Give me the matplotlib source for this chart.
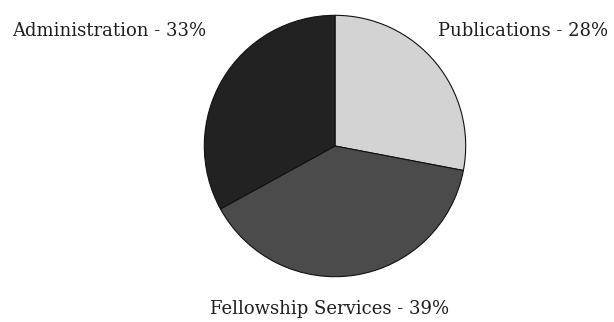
import matplotlib
matplotlib.use("Agg")
import matplotlib.pyplot as plt

labels = ["Publications - 28%", "Fellowship Services - 39%", "Administration - 33%"]
values = [28, 39, 33]
colors = ["#d3d3d3", "#4b4b4b", "#222222"]

W, H = 614, 322
fig = plt.figure(figsize=(W / 100, H / 100), dpi=100)
fig.patch.set_facecolor("white")

cx, cy, r = 335, 146, 132
ax = fig.add_axes([(cx - r) / W, (H - cy - r) / H, 2 * r / W, 2 * r / H])
ax.pie(values, colors=colors, startangle=90, counterclock=False,
       wedgeprops=dict(edgecolor="#111111", linewidth=0.8), radius=1.0)
ax.set_xlim(-1.01, 1.01)
ax.set_ylim(-1.01, 1.01)
ax.set_aspect("equal")
ax.axis("off")

font = dict(family="DejaVu Serif", fontsize=13, color="#1e1e1e")
fig.text(12 / W, 1 - 31 / H, labels[2], ha="left", va="center", **font)
fig.text(608 / W, 1 - 31 / H, labels[0], ha="right", va="center", **font)
fig.text(330 / W, 1 - 309 / H, labels[1], ha="center", va="center", **font)

fig.savefig("out.png", dpi=100, facecolor="white")
